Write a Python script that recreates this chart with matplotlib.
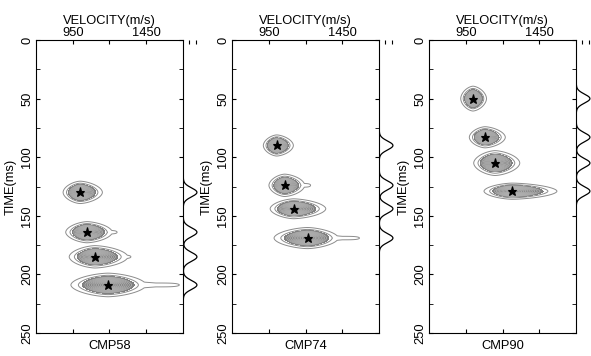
import matplotlib
matplotlib.use("Agg")
import matplotlib.pyplot as plt
import numpy as np

plt.rcParams["font.family"] = ["Liberation Sans", "DejaVu Sans"]

# picked (time, velocity) for each CMP gather plus blob extents
cmp_names = ["CMP58", "CMP74", "CMP90"]
pick_t = [[130, 164, 185, 209], [90, 124, 144, 169], [50, 83, 105, 129]]
pick_v = [[1000, 1047, 1101, 1190], [1004, 1058, 1119, 1214], [999, 1081, 1149, 1265]]
half_t = [[9, 8.5, 9, 9.5], [8.5, 9, 8, 8.5], [10, 8.5, 10, 6.5]]
v_lo = [[897, 918, 945, 965], [923, 963, 977, 1011], [925, 986, 1020, 1095]]
v_hi = [[1135, 1200, 1300, 1420], [1105, 1180, 1314, 1400], [1081, 1204, 1299, 1537]]
tail_hi = [[0, 1258, 1353, 1690], [0, 1240, 0, 1578], [0, 0, 0, 0]]

vel_ticks = [950, 1200, 1450]
vel_labels = ["950", "", "1450"]
time_major = [0, 50, 100, 150, 200, 250]

W, H = 591, 356
lefts = [36, 232, 429]
ax_w, top, bot = 147, 40, 333

v = np.linspace(700, 1700, 301)
t = np.linspace(0, 250, 751)
V, T = np.meshgrid(v, t)


def semblance(k):
    S = np.zeros_like(V)
    for t0, v0, ht, lo, hi, th in zip(pick_t[k], pick_v[k], half_t[k],
                                      v_lo[k], v_hi[k], tail_hi[k]):
        st = ht / 1.5
        dv = V - v0
        sv = np.where(dv < 0, (v0 - lo) / 1.5, (hi - v0) / 1.5)
        g = np.exp(-np.abs((T - t0) / st) ** 1.8 - np.abs(dv / sv) ** 1.6)
        if th:
            # smear trailing off toward high velocity
            tc = 0.5 * (v0 + th)
            tw = 0.5 * (th - v0)
            taper = np.clip((th - V) / (th - v0), 0.35, 1.0)
            tail = 0.2 * np.exp(-((T - t0) / (0.9 * st * taper)) ** 2 - ((V - tc) / tw) ** 6)
            g = np.maximum(g, tail)
        S = np.maximum(S, g)
    return S


fig = plt.figure(figsize=(W / 100, H / 100), dpi=100)

for k in range(3):
    L = lefts[k] / W
    B = 1 - bot / H
    Hh = (bot - top) / H
    ax = fig.add_axes([L, B, ax_w / W, Hh])
    S = semblance(k)
    ax.contour(V, T, S, levels=[0.1, 0.2], colors="#8c8c8c", linewidths=0.7)
    ax.contourf(V, T, S, levels=[0.28, 1.01], colors="#7f7f7f")
    ax.contour(V, T, S, levels=np.arange(0.34, 0.95, 0.06), colors="#b4b4b4", linewidths=0.5)
    ax.plot(pick_v[k], pick_t[k], "*", color="black", ms=6.5, mew=0.8, zorder=5)

    ax.set_xlim(700, 1700)
    ax.set_ylim(250, 0)
    ax.xaxis.tick_top()
    ax.xaxis.set_label_position("top")
    ax.set_xticks(vel_ticks)
    ax.set_xticklabels(vel_labels, fontsize=9.3)
    ax.set_xlabel("VELOCITY(m/s)", fontsize=9.3, labelpad=2)
    ax.tick_params(axis="x", which="both", direction="in", length=3, top=True, bottom=True, pad=1)
    ax.set_yticks(time_major)
    ax.set_yticks(np.arange(25, 250, 50), minor=True)
    ax.set_yticklabels([str(x) for x in time_major], fontsize=9.3, rotation=90, va="center")
    ax.tick_params(axis="y", which="both", direction="in", length=3, left=True, right=True, pad=2)
    ax.set_ylabel("TIME(ms)", fontsize=9.3, labelpad=3)
    ax.text(0.5, -0.025, cmp_names[k], transform=ax.transAxes, ha="center", va="top", fontsize=9.3)

    # trace along the right edge
    tr = fig.add_axes([L + ax_w / W, B, 16 / W, Hh])
    trace = np.zeros_like(t)
    for t0 in pick_t[k]:
        trace += np.exp(-0.5 * ((t - t0) / 3.8) ** 2)
    tr.plot(trace, t, color="black", lw=0.9)
    tr.set_xlim(-0.02, 1.15)
    tr.set_ylim(250, 0)
    for s in tr.spines.values():
        s.set_visible(False)
    tr.set_yticks([])
    tr.xaxis.tick_top()
    tr.set_xticks([0.43, 0.93])
    tr.set_xticklabels([])
    tr.tick_params(axis="x", direction="in", length=3)
    tr.patch.set_alpha(0)

fig.savefig("out.png", dpi=100, facecolor="white")
